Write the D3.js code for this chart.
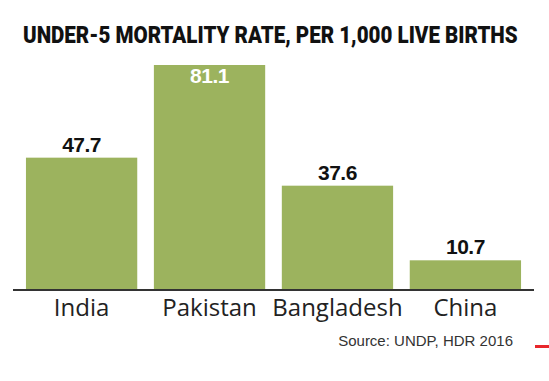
<!DOCTYPE html>
<html><head><meta charset="utf-8">
<script src="https://cdn.jsdelivr.net/npm/d3@7"></script>
<style>body{margin:0;background:#fff}</style>
</head><body>
<svg id="c" width="549" height="381"></svg>
<script>
const categories = ["India", "Pakistan", "Bangladesh", "China"];
const values = [47.7, 81.1, 37.6, 10.7];
const title = "UNDER-5 MORTALITY RATE, PER 1,000 LIVE BIRTHS";
const source = "Source: UNDP, HDR 2016";

const svg = d3.select("#c");
const x = d3.scaleBand().domain(categories).range([17, 530]).paddingInner(0.13).paddingOuter(0.07);
const y = d3.scaleLinear().domain([0, 81.1]).range([290, 65]);

const t = svg.append("text").attr("x", 0).attr("y", 0)
  .attr("font-family", "Roboto").attr("font-weight", 900).attr("font-size", 23)
  .attr("fill", "#111").text(title);
const w = t.node().getComputedTextLength();
t.attr("transform", `translate(23,43) scale(${495 / w},1)`);

const data = categories.map((c, i) => ({c, v: values[i]}));
svg.selectAll("rect.bar").data(data).join("rect").attr("class", "bar")
  .attr("x", d => x(d.c)).attr("width", x.bandwidth())
  .attr("y", d => y(d.v)).attr("height", d => y(0) - y(d.v))
  .attr("fill", "#9cb35e");

svg.selectAll("text.val").data(data).join("text").attr("class", "val")
  .attr("x", d => x(d.c) + x.bandwidth() / 2)
  .attr("y", (d, i) => i === 1 ? y(d.v) + 18 : y(d.v) - 6)
  .attr("text-anchor", "middle")
  .attr("font-family", "Liberation Sans, Arial").attr("font-weight", 700).attr("font-size", 21)
  .attr("letter-spacing", -0.5)
  .attr("fill", (d, i) => i === 1 ? "#fff" : "#111")
  .text(d => d.v.toFixed(1));

const axis = svg.append("g").attr("transform", "translate(0,290)")
  .call(d3.axisBottom(x).tickSize(0).tickPadding(0));
axis.select(".domain").attr("d", "M13,0H534").attr("stroke", "#333").attr("stroke-width", 2);
axis.selectAll(".tick text").attr("y", 26).attr("dy", 0)
  .attr("font-family", "Open Sans").attr("font-size", 24).attr("fill", "#222");

svg.append("text").attr("x", 513).attr("y", 346).attr("text-anchor", "end")
  .attr("font-family", "Liberation Sans, Arial").attr("font-size", 15).attr("fill", "#333")
  .text(source);

svg.append("rect").attr("x", 535).attr("y", 345).attr("width", 14).attr("height", 3).attr("fill", "#e8262b");
</script>
</body></html>
